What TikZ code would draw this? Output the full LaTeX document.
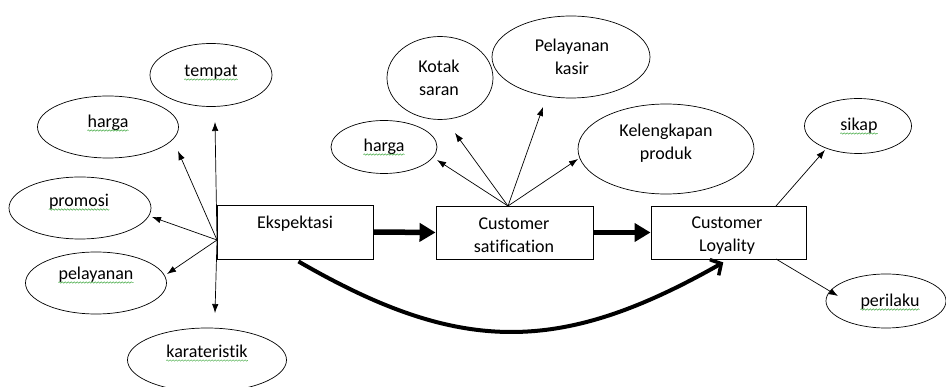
\documentclass[tikz,border=0pt]{standalone}
\usepackage{fontspec}
\setmainfont[Ligatures={NoCommon}]{Carlito}
\usetikzlibrary{shapes.geometric,arrows.meta,decorations.pathmorphing}
\definecolor{squigc}{RGB}{70,170,70}
\tikzset{
  ell/.style={draw, ellipse, line width=0.7pt, inner sep=0pt},
  boxn/.style={draw, rectangle, line width=0.9pt, inner sep=0pt},
  txt/.style={font=\fontsize{18}{23}\selectfont, inner sep=0pt, align=center, anchor=base},
  thinarr/.style={-{Latex[length=9pt,width=6.5pt]}, line width=0.7pt},
  bigarr/.style={-{Triangle[length=16pt,width=18pt]}, line width=5.5pt},
  curvarr/.style={-{Straight Barb[length=8pt,width=18pt,line width=3.5pt]}, line width=4pt},
  squig/.style={draw=squigc, decorate, decoration={snake, amplitude=0.7pt, segment length=3pt}, line width=0.5pt},
}
\begin{document}
\begin{tikzpicture}[x=1pt,y=-1pt]
\useasboundingbox (0,0) rectangle (946,387);
\clip (0,0) rectangle (946,387);

% left ellipses
\node[ell, minimum width=122pt, minimum height=63pt] (tempatE) at (211,75) {};
\node[ell, minimum width=141pt, minimum height=62pt] (hargaE) at (108,127) {};
\node[ell, minimum width=142pt, minimum height=62pt] (promosiE) at (80,208) {};
\node[ell, minimum width=141pt, minimum height=62pt] (pelayananE) at (96,283) {};
\node[ell, minimum width=159pt, minimum height=64pt] (karE) at (207,360) {};

\node[txt] (tempatT) at (211,77) {tempat};
\node[txt] (hargaT) at (108,128) {harga};
\node[txt] (promosiT) at (79,207) {promosi};
\node[txt] (pelayananT) at (96,280) {pelayanan};
\node[txt] (karT) at (207,358) {karateristik};

% middle ellipses
\node[ell, minimum width=106pt, minimum height=53pt] (harga2E) at (384,147) {};
\node[ell, minimum width=106pt, minimum height=83pt] (kotakE) at (440,78) {};
\node[ell, minimum width=158pt, minimum height=82pt] (kasirE) at (571,57) {};
\node[ell, minimum width=176pt, minimum height=90pt] (kelE) at (666,149) {};

\node[txt] (harga2T) at (384,152) {harga};
\node[txt] (kotakT) at (439,96) {Kotak\\saran};
\node[txt] (kasirT) at (572,75) {Pelayanan\\kasir};
\node[txt] (kelT) at (666,160) {Kelengkapan\\produk};

% right ellipses
\node[ell, minimum width=107pt, minimum height=55pt] (sikapE) at (858,126) {};
\node[ell, minimum width=120pt, minimum height=54pt] (perilakuE) at (886,301) {};
\node[txt] (sikapT) at (859,131) {sikap};
\node[txt] (perilakuT) at (890,307) {perilaku};

% boxes
\node[boxn, minimum width=156pt, minimum height=54pt] (eks) at (295,232) {};
\node[boxn, minimum width=157pt, minimum height=53pt] (sat) at (514.5,232.5) {};
\node[boxn, minimum width=155pt, minimum height=53pt] (loy) at (728.5,232.5) {};
\node[txt] (eksT) at (295,229) {Ekspektasi};
\node[txt] (satT) at (514,253) {Customer\\satification};
\node[txt] (loyT) at (727,252) {Customer\\Loyality};

% spell-check squiggles
\foreach \n in {tempatT,hargaT,promosiT,pelayananT,karT,harga2T,sikapT,perilakuT}
  \draw[squig] ([yshift=-2.5pt]\n.base west) -- ([yshift=-2.5pt]\n.base east);

% hubs and ends
\coordinate (h1) at (217,240);
\coordinate (e1) at (215,122);
\coordinate (e2) at (178,151);
\coordinate (e3) at (152,217);
\coordinate (e4) at (167,274);
\coordinate (e5) at (215,313);
\coordinate (h2) at (508,206);
\coordinate (m1) at (437,160);
\coordinate (m2) at (455,133);
\coordinate (m3) at (543,107);
\coordinate (m4) at (578,159);
\coordinate (r1) at (776,206);
\coordinate (r2) at (776,259);
\coordinate (s1) at (825,150);
\coordinate (s2) at (838,296);

\foreach \e in {e1,e2,e3,e4,e5} \draw[thinarr] (h1) -- (\e);
\foreach \e in {m1,m2,m3,m4} \draw[thinarr] (h2) -- (\e);
\draw[thinarr] (r1) -- (s1);
\draw[thinarr] (r2) -- (s2);

% thick arrows
\draw[bigarr] (eks.east) -- (sat.west);
\draw[bigarr] (sat.east) -- (loy.west);

% curved arrow
\draw[curvarr, shorten <=4pt, shorten >=6pt] (eks.south) .. controls (460,355) and (560,355) .. (loy.south);
\end{tikzpicture}
\end{document}
